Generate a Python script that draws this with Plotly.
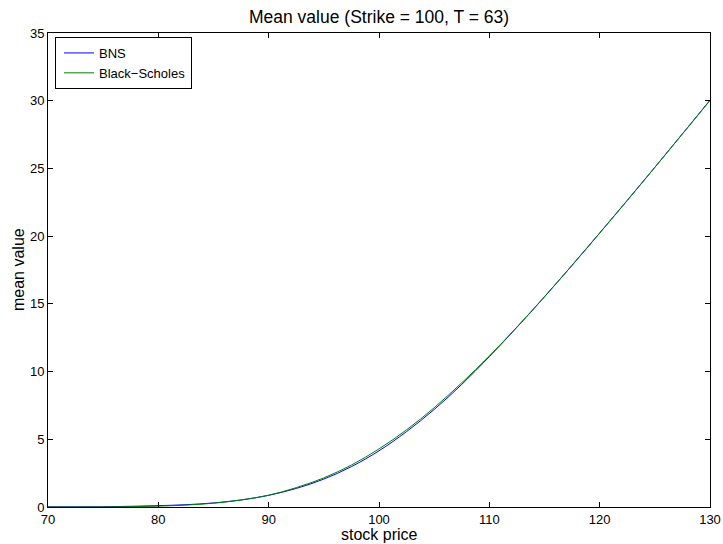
import plotly.graph_objects as go

stock_price = [70, 72.5, 75, 77.5, 80, 82.5, 85, 87.5, 90, 92.5, 95, 97.5, 100,
               102.5, 105, 107.5, 110, 112.5, 115, 117.5, 120, 122.5, 125, 127.5, 130]
bns = [0.01, 0.015, 0.02, 0.05, 0.1, 0.17, 0.3, 0.52, 0.86, 1.37, 2.06, 2.98, 4.15,
       5.57, 7.2, 9.05, 11.1, 13.27, 15.52, 17.85, 20.23, 22.64, 25.08, 27.55, 30.03]
black_scholes = [0.0, 0.0, 0.003, 0.02, 0.065, 0.14, 0.28, 0.52, 0.87, 1.43, 2.15, 3.10, 4.29,
                 5.70, 7.33, 9.17, 11.15, 13.29, 15.53, 17.84, 20.22, 22.63, 25.08, 27.55, 30.03]

x_ticks = [70, 80, 90, 100, 110, 120, 130]
y_ticks = [0, 5, 10, 15, 20, 25, 30, 35]

title_text = "Mean value (Strike = 100, T = 63)"
x_label = "stock price"
y_label = "mean value"

FONT = "Liberation Sans, Arial, sans-serif"

fig = go.Figure()
fig.add_trace(go.Scatter(x=stock_price, y=bns, mode="lines", name="BNS",
                         line=dict(color="rgb(0,0,255)", width=1, shape="spline")))
fig.add_trace(go.Scatter(x=stock_price, y=black_scholes, mode="lines", name="Black\u2212Scholes",
                         line=dict(color="rgb(0,128,0)", width=1, shape="spline")))

axis_common = dict(showline=True, linecolor="black", linewidth=1, mirror="ticks",
                   ticks="inside", ticklen=5, tickcolor="black", tickwidth=1,
                   showgrid=False, zeroline=False, automargin=False,
                   tickfont=dict(family=FONT, size=13, color="black"))

fig.update_layout(
    width=723, height=544,
    margin=dict(l=48, r=13, t=33, b=37),
    paper_bgcolor="white", plot_bgcolor="white",
    font=dict(family=FONT, size=13, color="black"),
    title=dict(text=title_text, x=0.5, xref="paper", xanchor="center",
               y=1 - 17 / 544, yanchor="middle", yref="container",
               font=dict(family=FONT, size=17.5, color="black")),
    xaxis=dict(range=[70, 130], tickvals=x_ticks, **axis_common),
    yaxis=dict(range=[0, 35], tickvals=y_ticks, **axis_common),
    legend=dict(x=0.0106, y=0.9916, xanchor="left", yanchor="top",
                bordercolor="black", borderwidth=1, bgcolor="white",
                font=dict(family=FONT, size=13, color="black"),
                tracegroupgap=0, indentation=3),
    showlegend=True,
    annotations=[
        dict(text=x_label, xref="paper", yref="paper", x=0.5, y=0,
             xanchor="center", yanchor="middle", yshift=-27.5, showarrow=False,
             font=dict(family=FONT, size=16, color="black")),
        dict(text=y_label, xref="paper", yref="paper", x=0, y=0.5,
             xanchor="center", yanchor="middle", xshift=-30, textangle=-90, showarrow=False,
             font=dict(family=FONT, size=16, color="black")),
    ],
)

fig.write_html(
    "out.html",
    config={"displayModeBar": False},
    post_script="document.body.style.margin='0';document.body.style.overflow='hidden';",
)
